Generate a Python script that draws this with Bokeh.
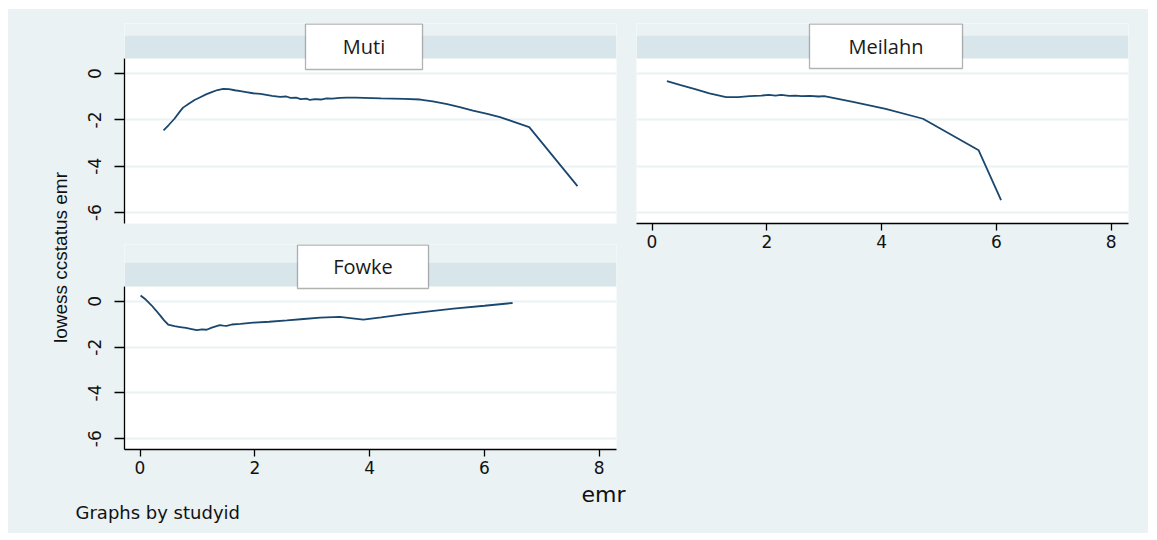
import math

from bokeh.core.properties import value
from bokeh.embed import file_html
from bokeh.layouts import column, row
from bokeh.models import BoxAnnotation, ColumnDataSource, FixedTicker, Grid, Label, Spacer
from bokeh.plotting import figure
from bokeh.resources import INLINE

# Lowess smooth of ccstatus against emr, one panel per study
muti_emr = [0.41, 0.50, 0.60, 0.70, 0.75, 0.85, 0.95, 1.05, 1.15, 1.25, 1.35, 1.45,
            1.55, 1.65, 1.75, 1.85, 1.97, 2.10, 2.20, 2.30, 2.44, 2.55, 2.62, 2.72,
            2.80, 2.90, 2.96, 3.05, 3.15, 3.25, 3.35, 3.48, 3.60, 3.75, 3.90, 4.05,
            4.20, 4.40, 4.60, 4.88, 5.10, 5.35, 5.57, 5.80, 6.05, 6.27, 6.50, 6.78, 7.62]
muti_lowess = [-2.45, -2.22, -1.95, -1.62, -1.47, -1.30, -1.14, -1.02, -0.90, -0.80, -0.71, -0.66,
               -0.67, -0.72, -0.76, -0.80, -0.85, -0.88, -0.92, -0.96, -1.01, -0.99, -1.05, -1.04,
               -1.10, -1.08, -1.14, -1.10, -1.12, -1.07, -1.08, -1.05, -1.04, -1.04, -1.05, -1.06,
               -1.07, -1.08, -1.09, -1.12, -1.20, -1.32, -1.45, -1.60, -1.74, -1.88, -2.07, -2.31, -4.86]

meilahn_emr = [0.26, 0.50, 0.75, 1.00, 1.29, 1.50, 1.70, 1.90, 2.04, 2.15, 2.25, 2.39,
               2.50, 2.60, 2.75, 2.90, 3.00, 3.50, 4.07, 4.72, 5.69, 6.08]
meilahn_lowess = [-0.33, -0.50, -0.67, -0.85, -1.02, -1.02, -0.97, -0.95, -0.92, -0.95, -0.92, -0.96,
                  -0.95, -0.97, -0.96, -0.99, -0.97, -1.22, -1.52, -1.95, -3.31, -5.46]

fowke_emr = [0.01, 0.10, 0.20, 0.28, 0.35, 0.42, 0.49, 0.60, 0.70, 0.80, 0.90, 0.99,
             1.08, 1.16, 1.25, 1.39, 1.45, 1.51, 1.60, 1.75, 1.97, 2.25, 2.56, 2.85,
             3.14, 3.48, 3.70, 3.89, 4.20, 4.59, 5.00, 5.46, 6.00, 6.49]
fowke_lowess = [0.26, 0.08, -0.17, -0.40, -0.61, -0.83, -1.01, -1.08, -1.12, -1.16, -1.21, -1.26,
                -1.22, -1.24, -1.15, -1.04, -1.06, -1.07, -1.01, -0.98, -0.93, -0.89, -0.83, -0.77,
                -0.71, -0.68, -0.74, -0.80, -0.70, -0.57, -0.45, -0.32, -0.19, -0.07]

x_ticks = [0, 2, 4, 6, 8]
y_ticks = [0, -2, -4, -6]
y_title = "lowess ccstatus emr"
x_title = "emr"
by_note = "Graphs by studyid"

BG = "#EAF2F3"
STRIP = "#D8E5EA"
LINE = "#1A476F"
INK = "#111111"

X0, X1 = -0.27, 8.30
Y0, Y1 = -6.47, 0.65

TICK_FONT = "DejaVu Sans"
BOX_FONT = "Open Sans"


def panel(name, xs, ys, width, height, left, right, top, bottom,
          plot_top, strip_top, box, show_x, show_y):
    """One study panel; frame covers the strip, the header box and the plot region."""
    frame_w = width - left - right
    frame_h = height - top - bottom
    per_y = (Y1 - Y0) / (frame_h - plot_top)
    y_top = Y1 + plot_top * per_y
    per_x = (X1 - X0) / frame_w

    def fx(px):
        return X0 + px * per_x

    def fy(px):
        return y_top - px * per_y

    p = figure(width=width, height=height, x_range=(X0, X1), y_range=(Y0, y_top),
               min_border_left=left, min_border_right=right,
               min_border_top=top, min_border_bottom=bottom,
               x_axis_location="below" if show_x else None,
               y_axis_location="left" if show_y else None,
               toolbar_location=None, output_backend="svg",
               background_fill_color="white", border_fill_color=BG,
               outline_line_color=None)
    p.xgrid.visible = False
    p.ygrid.visible = False
    p.add_layout(Grid(dimension=1, ticker=FixedTicker(ticks=y_ticks),
                      grid_line_color=BG, grid_line_width=2))

    # strip band and the bit of outer background above it
    p.add_layout(BoxAnnotation(bottom=fy(strip_top), fill_color=BG, fill_alpha=1,
                               line_color=None))
    p.add_layout(BoxAnnotation(bottom=Y1, top=fy(strip_top), fill_color=STRIP,
                               fill_alpha=1, line_color=None))

    src = ColumnDataSource(dict(x=xs, y=ys))
    p.line("x", "y", source=src, line_color=LINE, line_width=1.8)

    bl, br, bt, bb = box
    p.add_layout(BoxAnnotation(left=fx(bl), right=fx(br), top=fy(bt), bottom=fy(bb),
                               fill_color="white", fill_alpha=1,
                               line_color="black", line_width=1.3))
    p.add_layout(Label(x=fx((bl + br) / 2), y=fy((bt + bb) / 2), text=name,
                       text_align="center", text_baseline="middle",
                       text_font=BOX_FONT, text_font_size="20px", text_color="#1a1a1a"))

    if show_x:
        ax = p.xaxis[0]
        ax.ticker = FixedTicker(ticks=x_ticks)
        ax.major_label_overrides = {t: str(t) for t in x_ticks}
        ax.major_tick_out = 7
        ax.major_tick_in = 0
        ax.minor_tick_out = 0
        ax.minor_tick_in = 0
        ax.axis_line_color = "black"
        ax.axis_line_width = 1.3
        ax.major_tick_line_color = "black"
        ax.major_tick_line_width = 1.3
        ax.major_label_text_font = TICK_FONT
        ax.major_label_text_font_size = "17px"
        ax.major_label_text_color = INK
        ax.major_label_standoff = 4
    if show_y:
        ay = p.yaxis[0]
        ay.ticker = FixedTicker(ticks=y_ticks)
        ay.major_label_overrides = {t: str(t) for t in y_ticks}
        ay.bounds = (Y0, Y1)
        ay.major_tick_out = 10
        ay.major_tick_in = 0
        ay.minor_tick_out = 0
        ay.minor_tick_in = 0
        ay.axis_line_color = "black"
        ay.axis_line_width = 1.3
        ay.major_tick_line_color = "black"
        ay.major_tick_line_width = 1.3
        ay.major_label_orientation = "vertical"
        ay.major_label_text_font = TICK_FONT
        ay.major_label_text_font_size = "17px"
        ay.major_label_text_color = INK
        ay.major_label_standoff = 13
    return p


def text_strip(width, height):
    """Plain background canvas whose data units are its own pixels."""
    p = figure(width=width, height=height, x_range=(0, width), y_range=(0, height),
               min_border=0, x_axis_location=None, y_axis_location=None,
               toolbar_location=None, output_backend="svg",
               background_fill_color=BG, border_fill_color=BG, outline_line_color=None)
    p.frame_align = False
    p.xgrid.visible = False
    p.ygrid.visible = False
    return p


fig_muti = panel("Muti", muti_emr, muti_lowess, 556, 226, 50, 14, 14, 12,
                 plot_top=35, strip_top=12, box=(181, 298, 0.5, 46),
                 show_x=False, show_y=True)
fig_meilahn = panel("Meilahn", meilahn_emr, meilahn_lowess, 518, 251, 6, 20, 14, 37,
                    plot_top=35, strip_top=12, box=(173, 326, 0.5, 45),
                    show_x=True, show_y=False)
fig_fowke = panel("Fowke", fowke_emr, fowke_lowess, 556, 246, 50, 14, 9, 32,
                  plot_top=42, strip_top=18, box=(173, 304, 0.5, 44),
                  show_x=True, show_y=True)

# x title and the by-variable note under the bottom panel
fig_note = text_strip(556, 52)
fig_note.text(x=[529], y=[39], text=[x_title], text_align="center", text_baseline="middle",
              text_font=value("DejaVu Sans"), text_font_size="22px", text_color=INK)
fig_note.text(x=[1], y=[21], text=[by_note], text_align="left", text_baseline="middle",
              text_font=value("DejaVu Sans"), text_font_size="18px", text_color=INK)

# shared y title down the left edge
fig_ytitle = text_strip(66, 524)
fig_ytitle.text(x=[52], y=[276], text=[y_title], angle=math.pi / 2,
                text_align="center", text_baseline="middle",
                text_font=value("Liberation Sans"), text_font_size="19px", text_color=INK)

filler = Spacer(width=518, height=273)
body = row(fig_ytitle, column(fig_muti, fig_fowke, fig_note), column(fig_meilahn, filler),
           styles={"background-color": BG})
page = column(Spacer(height=9), row(Spacer(width=8), body))

open("out.html", "w").write(file_html(page, INLINE))
